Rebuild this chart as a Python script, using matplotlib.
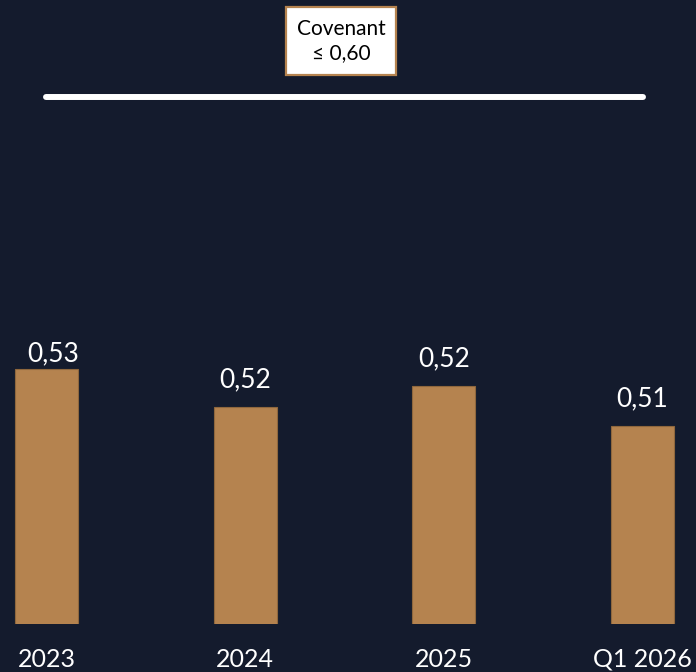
import matplotlib
matplotlib.use("Agg")
import matplotlib.pyplot as plt
from matplotlib.patches import Rectangle

categories = ["2023", "2024", "2025", "Q1 2026"]
values = [0.5275, 0.5173, 0.5229, 0.5123]
labels = ["0,53", "0,52", "0,52", "0,51"]
covenant = 0.60
covenant_text = "Covenant\n≤ 0,60"

BG = "#141b2d"
BAR = "#b5834f"

plt.rcParams["font.family"] = ["Lato", "DejaVu Sans"]

W, H = 696, 672
fig = plt.figure(figsize=(W / 100, H / 100), dpi=100, facecolor=BG)
ax = fig.add_axes([0, 48 / H, 1, 624 / H])
ax.set_facecolor(BG)

x = list(range(len(categories)))
ax.bar(x, values, width=0.317, color=BAR, edgecolor="#8f673d", linewidth=0.8, zorder=2)

ax.set_xlim(-0.234, 3.269)
ax.set_ylim(0.4595, 0.6259)

# value labels
offsets = [(5, -9), (0, 0), (0, 0), (0, 0)]
for xi, v, lab, (dx, dy) in zip(x, values, labels, offsets):
    ax.annotate(lab, (xi, v), xytext=(dx, 14.5 + dy), textcoords="offset points",
                ha="center", va="baseline", color="white", fontsize=19)

# covenant line
ax.hlines(covenant, 0, 3, colors="white", linewidth=4.3, capstyle="round", zorder=3)

# covenant box
fig.patches.append(Rectangle((286 / W, (H - 75) / H), 110 / W, 68 / H,
                             transform=fig.transFigure, facecolor="white",
                             edgecolor=BAR, linewidth=1.6))
fig.text(341 / W, (H - 41) / H, covenant_text, ha="center", va="center",
         fontsize=15, color="black", linespacing=1.2)

ax.set_xticks(x)
ax.set_xticklabels(categories, fontsize=18, color="white")
ax.tick_params(axis="x", length=0, pad=17)
ax.set_yticks([])
for s in ax.spines.values():
    s.set_visible(False)

fig.savefig("out.png", dpi=100, facecolor=BG)
